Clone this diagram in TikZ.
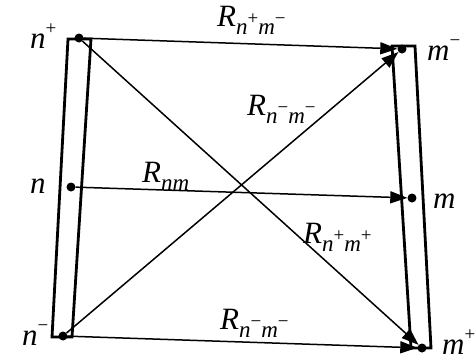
\documentclass[tikz,border=0pt]{standalone}
\usepackage{fontspec}
\setmainfont{Liberation Serif}
\usetikzlibrary{arrows.meta}
\newcommand\supsgn[1]{\raisebox{0.45em}{\fontsize{19}{19}\selectfont #1}}
\newcommand\subtxt[1]{\raisebox{-0.28em}{\fontsize{23}{23}\selectfont #1}}
\begin{document}
\begin{tikzpicture}[x=1pt,y=-1pt,
 dot/.style={circle,fill,inner sep=0pt,minimum size=9pt},
 bar/.style={line width=2.8pt,line join=miter},
 conn/.style={line width=1.5pt,-{Triangle[length=17pt,width=12pt]}},
 lbl/.style={anchor=base west,inner sep=0pt,font=\fontsize{31}{33}\selectfont}]
\useasboundingbox (0,0) rectangle (475,360);
% bars
\draw[bar] (68,39) -- (91,39) -- (72,337) -- (52,337) -- cycle;
\draw[bar] (392,46) -- (415,46) -- (431,348) -- (411,348) -- cycle;
% dots
\node[dot] (np) at (79,38) {};
\node[dot] (n)  at (71,187) {};
\node[dot] (nm) at (63,336) {};
\node[dot] (mm) at (402,49) {};
\node[dot] (m)  at (412,198) {};
\node[dot] (mp) at (422,348) {};
% connectors
\draw[conn] (np) -- (mm);
\draw[conn] (np) -- (mp);
\draw[conn] (nm) -- (mm);
\draw[conn] (nm) -- (mp);
\draw[conn] (n) -- (m);
% node labels
\node[lbl] (lnp) at (30,48) {\textit{n}\supsgn{+}};
\node[lbl] (ln)  at (30,193) {\textit{n}};
\node[lbl] (lnm) at (22,345) {\textit{n}\supsgn{−}};
\node[lbl] (lmm) at (427,60) {\textit{m}\supsgn{−}};
\node[lbl] (lm)  at (433,208) {\textit{m}};
\node[lbl] (lmp) at (442,354) {\textit{m}\supsgn{+}};
% resistance labels
\node[lbl] (r1) at (217,26) {\textit{R}\subtxt{\textit{n}\supsgn{+}\textit{m}\supsgn{−}}};
\node[lbl] (r2) at (247,115) {\textit{R}\subtxt{\textit{n}\supsgn{−}\textit{m}\supsgn{−}}};
\node[lbl] (r3) at (142,182) {\textit{R}\subtxt{\textit{nm}}};
\node[lbl] (r4) at (303,243) {\textit{R}\subtxt{\textit{n}\supsgn{+}\textit{m}\supsgn{+}}};
\node[lbl] (r5) at (220,329) {\textit{R}\subtxt{\textit{n}\supsgn{−}\textit{m}\supsgn{−}}};
\end{tikzpicture}
\end{document}
